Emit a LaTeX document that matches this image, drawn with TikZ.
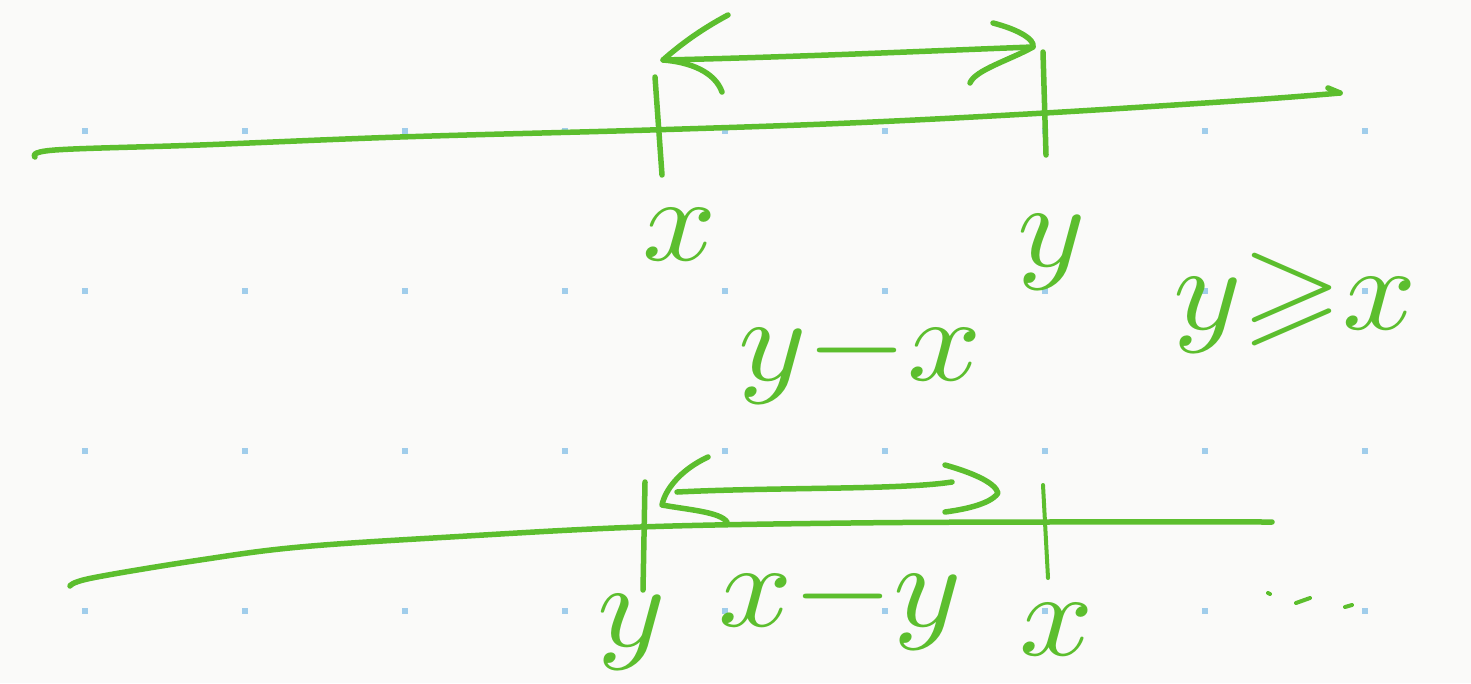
\documentclass[tikz,border=0pt]{standalone}
\usepackage{graphicx}
\usepackage{amssymb}
\definecolor{pen}{RGB}{92,190,46}
\definecolor{dotc}{RGB}{160,205,235}
\definecolor{paper}{RGB}{250,250,249}
\newcommand{\bigtxt}[1]{\scalebox{13}[12]{#1}}
\begin{document}
\begin{tikzpicture}[x=1pt,y=-1pt,
  pen/.style={draw=pen,line width=5.5pt,line cap=round,line join=round},
  thinpen/.style={draw=pen,line width=4pt,line cap=round,line join=round},
  lab/.style={text=pen,inner sep=0pt}]
\useasboundingbox[fill=paper] (0,0) rectangle (1471,683);
% grid dots
\foreach \i in {0,...,8}
  \foreach \j in {0,...,3}
    \fill[dotc] ({85+160*\i-3},{131+160*\j-3}) rectangle ++(6,6);
% ---------- top number line ----------
\draw[pen] plot[smooth,tension=0.6] coordinates {(35,157) (55,150) (200,145) (400,137) (650,130) (850,123) (1045,113) (1250,100) (1340,93)};
\draw[pen] (1328,88) -- (1340,93);
% ticks
\coordinate (tx1) at (655,77); \coordinate (tx2) at (662,175);
\coordinate (ty1) at (1043,52); \coordinate (ty2) at (1046,155);
\draw[pen] (tx1) -- (tx2);
\draw[pen] (ty1) -- (ty2);
% double arrow
\coordinate (ta) at (663,60); \coordinate (tb) at (1033,47);
\draw[pen] (ta) .. controls (800,57) and (950,50) .. (tb);
\draw[pen] (728,15) .. controls (700,30) and (680,45) .. (ta) .. controls (690,62) and (715,72) .. (722,92);
\draw[pen] (993,23) .. controls (1020,30) and (1035,40) .. (tb) .. controls (1010,60) and (975,70) .. (970,83);
% labels
\node[lab] (x1) at (680,235) {\bigtxt{$x$}};
\node[lab] (y1) at (1052,252) {\bigtxt{$y$}};
\node[lab] (d1) at (860,357) {\bigtxt{$y{-}x$}};
\node[lab] (c1) at (1295,303) {\bigtxt{$y{\geqslant}x$}};
% ---------- bottom number line ----------
\draw[pen] plot[smooth,tension=0.6] coordinates {(70,586) (92,578) (200,560) (300,547) (450,537) (640,527) (850,523) (1045,522) (1272,522)};
\coordinate (by1) at (645,482); \coordinate (by2) at (643,590);
\coordinate (bx1) at (1043,485); \coordinate (bx2) at (1048,578);
\draw[pen] (by1) -- (by2);
\draw[thinpen] (bx1) -- (bx2);
\coordinate (ba) at (677,492); \coordinate (bb) at (952,482);
\draw[pen] (ba) .. controls (780,487) and (900,490) .. (bb);
\draw[pen] (708,457) .. controls (680,470) and (665,490) .. (662,505) .. controls (690,510) and (720,512) .. (727,522);
\draw[pen] (945,465) .. controls (970,472) and (995,482) .. (998,493) .. controls (990,505) and (960,510) .. (945,512);
\node[lab] (y2) at (632,632) {\bigtxt{$y$}};
\node[lab] (d2) at (840,603) {\bigtxt{$x{-}y$}};
\node[lab] (x2) at (1057,630) {\bigtxt{$x$}};
% trailing marks
\draw[thinpen] (1268,593) -- (1270,594);
\draw[thinpen] (1296,603) -- (1310,598);
\draw[thinpen] (1345,607) -- (1352,605);
\end{tikzpicture}
\end{document}
